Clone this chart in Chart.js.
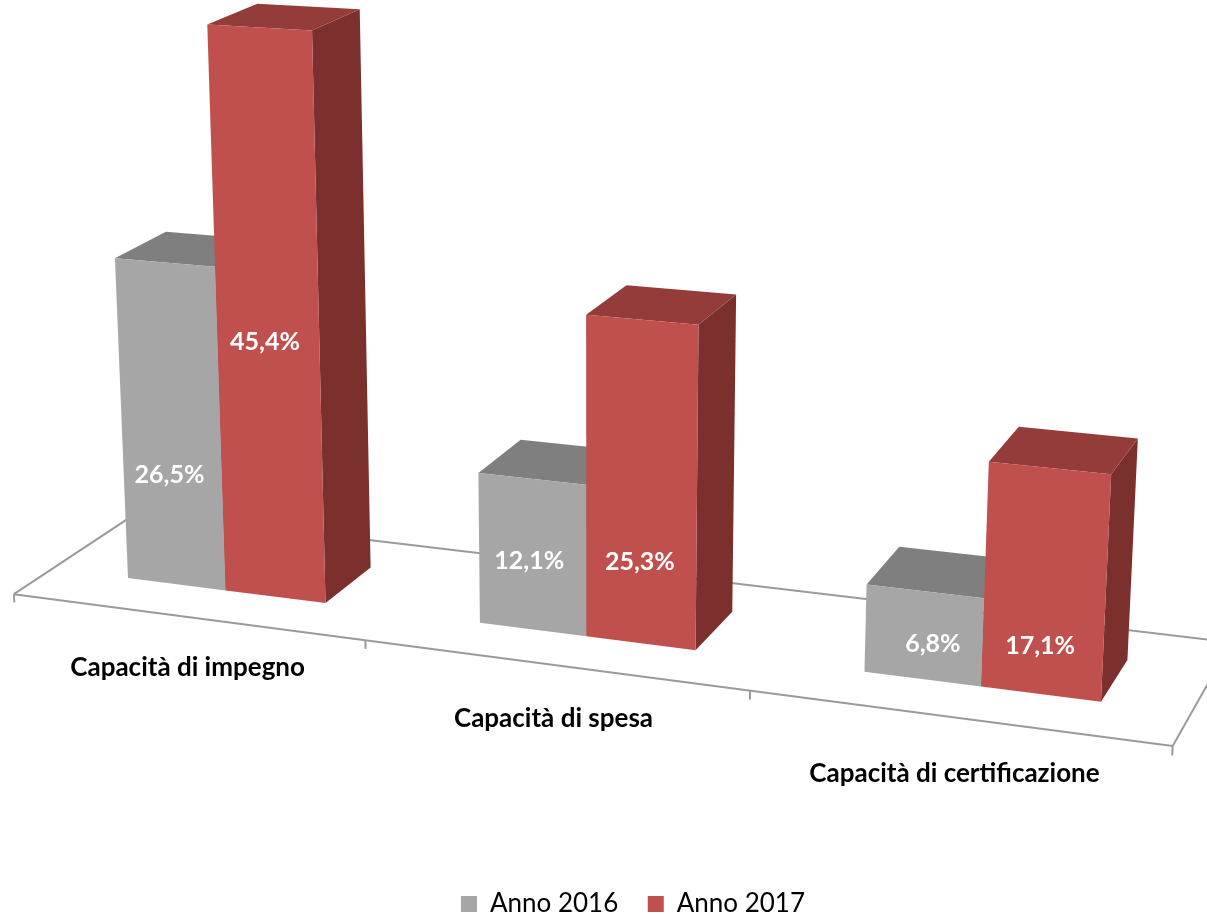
<!DOCTYPE html>
<html>
<head>
<meta charset="utf-8">
<title>Capacità</title>
<script src="https://cdn.jsdelivr.net/npm/chart.js@4/dist/chart.umd.min.js"></script>
<style>
html, body { margin: 0; padding: 0; background: #fff; overflow: hidden; }
canvas { display: block; }
</style>
</head>
<body>
<canvas id="chart" width="1207" height="916"></canvas>
<script>
const categories = ['Capacità di impegno', 'Capacità di spesa', 'Capacità di certificazione'];
const anno2016 = [26.5, 12.1, 6.8];
const anno2017 = [45.4, 25.3, 17.1];
const seriesNames = ['Anno 2016', 'Anno 2017'];

// where each value label sits: share of the bar height, and sideways nudge as share of the bar width
const labelShare2016 = [0.345, 0.454, 0.418];
const labelShare2017 = [0.46, 0.256, 0.215];
const labelNudge2016 = [-0.03, -0.03, 0.08];
const labelNudge2017 = [-0.03, -0.01, -0.02];

const faces = [
    { front: '#A6A6A6', top: '#7F7F7F', side: '#6E6E6E' },
    { front: '#C0504D', top: '#933C39', side: '#7C302E' }
];
const groupWidth = 0.572;

// perspective of the old 3D chart: three vanishing points and an origin
const O = [128, 578];
const VP_U = [-7800, -430], A = -0.0425;
const VP_V = [594, 12000], B = -0.001028;
const VP_Z = [2000, -720], C = 0.027;
const FLOOR_FRONT = -0.8, FLOOR_BACK = 1.62, FLOOR_V = 0.25;

function project(u, v, z) {
    const a = A * u, b = B * v, c = C * z;
    const w = 1 + a + b + c;
    return [
        (O[0] + a * VP_U[0] + b * VP_V[0] + c * VP_Z[0]) / w,
        (O[1] + a * VP_U[1] + b * VP_V[1] + c * VP_Z[1]) / w
    ];
}

function poly(ctx, pts, fill) {
    ctx.beginPath();
    pts.forEach((p, i) => i ? ctx.lineTo(p[0], p[1]) : ctx.moveTo(p[0], p[1]));
    ctx.closePath();
    ctx.fillStyle = fill;
    ctx.fill();
}

function line(ctx, a, b) {
    ctx.beginPath();
    ctx.moveTo(a[0], a[1]);
    ctx.lineTo(b[0], b[1]);
    ctx.stroke();
}

const perspectiveBars = {
    id: 'perspectiveBars',
    // cancels the flat bars and draws them as boxes from the same elements
    beforeDatasetsDraw(chart) {
        const ctx = chart.ctx;
        const xs = chart.scales.x, ys = chart.scales.y;
        const n = categories.length;
        const toU = px => (px - xs.left) / xs.width * n - 0.5 + groupWidth / 2;
        const edgeU = i => i - 0.5 + groupWidth / 2;

        ctx.save();
        // floor
        ctx.strokeStyle = '#9A9A9A';
        ctx.lineWidth = 2;
        const fl = project(edgeU(0), FLOOR_V, FLOOR_FRONT);
        const fr = project(edgeU(n), FLOOR_V, FLOOR_FRONT);
        const bl = project(edgeU(0), FLOOR_V, FLOOR_BACK);
        const br = project(edgeU(n), FLOOR_V, FLOOR_BACK);
        line(ctx, fl, fr);
        line(ctx, fl, bl);
        line(ctx, bl, br);
        line(ctx, br, fr);
        for (let i = 0; i <= n; i++) {
            line(ctx, project(edgeU(i), FLOOR_V, FLOOR_FRONT), project(edgeU(i), FLOOR_V - 0.7, FLOOR_FRONT));
        }

        // boxes, left to right
        for (let i = 0; i < n; i++) {
            chart.data.datasets.forEach((ds, d) => {
                const el = chart.getDatasetMeta(d).data[i];
                const u0 = toU(el.x - el.width / 2), u1 = toU(el.x + el.width / 2);
                const top = ys.getValueForPixel(el.y), base = ys.getValueForPixel(el.base);
                poly(ctx, [project(u1, base, 0), project(u1, base, 1), project(u1, top, 1), project(u1, top, 0)], faces[d].side);
                poly(ctx, [project(u0, top, 0), project(u1, top, 0), project(u1, top, 1), project(u0, top, 1)], faces[d].top);
                poly(ctx, [project(u0, base, 0), project(u1, base, 0), project(u1, top, 0), project(u0, top, 0)], faces[d].front);
            });
        }

        // value labels
        ctx.textAlign = 'center';
        ctx.textBaseline = 'middle';
        ctx.fillStyle = '#FFFFFF';
        ctx.font = 'bold 25px Lato';
        const shares = [labelShare2016, labelShare2017];
        const nudges = [labelNudge2016, labelNudge2017];
        shares.forEach((share, d) => {
            chart.getDatasetMeta(d).data.forEach((el, i) => {
                const value = chart.data.datasets[d].data[i];
                const p = project(toU(el.x + el.width * nudges[d][i]), value * share[i], 0);
                ctx.fillText(value.toFixed(1).replace('.', ',') + '%', p[0], p[1]);
            });
        });

        // category labels follow the slope of the floor
        ctx.fillStyle = '#000000';
        ctx.font = 'bold 26px Lato';
        chart.data.labels.forEach((label, i) => {
            const p = project(edgeU(i) + 0.5, -4, FLOOR_FRONT);
            ctx.fillText(label, p[0], p[1]);
        });
        ctx.restore();
        return false;
    }
};

new Chart(document.getElementById('chart'), {
    type: 'bar',
    data: {
        labels: categories,
        datasets: [
            { label: seriesNames[0], data: anno2016, backgroundColor: faces[0].front },
            { label: seriesNames[1], data: anno2017, backgroundColor: faces[1].front }
        ]
    },
    options: {
        responsive: false,
        animation: false,
        categoryPercentage: groupWidth,
        barPercentage: 1,
        layout: { padding: { left: 59, bottom: -11 } },
        scales: {
            x: { display: false },
            y: { display: false, min: 0, max: 50 }
        },
        plugins: {
            tooltip: { enabled: false },
            legend: {
                position: 'bottom',
                labels: {
                    boxWidth: 16,
                    boxHeight: 16,
                    padding: 29.5,
                    color: '#000000',
                    font: { family: 'Lato', size: 26 }
                }
            }
        }
    },
    plugins: [perspectiveBars]
});
</script>
</body>
</html>
